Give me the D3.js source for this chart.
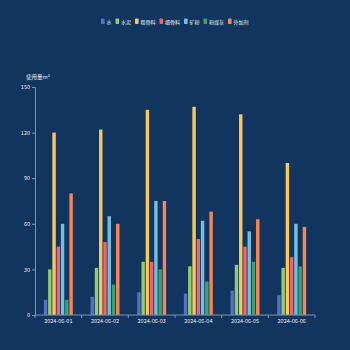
<!DOCTYPE html>
<html><head><meta charset="utf-8">
<script src="https://cdn.jsdelivr.net/npm/d3@7"></script>
<style>html,body{margin:0;padding:0;background:#11355f;}svg{display:block;}</style>
</head><body>
<svg id="c" width="350" height="350"></svg>
<script>
const categories = ["2024-06-01","2024-06-02","2024-06-03","2024-06-04","2024-06-05","2024-06-06"];
const seriesNames = ["水","水泥","粗骨料","细骨料","矿粉","粉煤灰","外加剂"];
const water   = [10,12,15,14,16,13];
const cement  = [30,31,35,32,33,31];
const coarse  = [120,122,135,137,132,100];
const fine    = [45,48,35,50,45,38];
const slag    = [60,65,75,62,55,60];
const flyash  = [10,20,30,22,35,32];
const admix   = [80,60,75,68,63,58];
const yTicks = [0,30,60,90,120,150];
const colors = ["#5470c6","#91cc75","#fac858","#ee6666","#73c0de","#3ba272","#fc8452"];
const seriesValues = [water,cement,coarse,fine,slag,flyash,admix];

const svg = d3.select("#c");
const L=35, R=315, T=87, B=315;
const x0 = d3.scaleBand().domain(categories).range([L,R]).paddingInner(0.38).paddingOuter(0.19);
const x1 = d3.scaleBand().domain(seriesNames).range([0,x0.bandwidth()]).paddingInner(0.2);
const y = d3.scaleLinear().domain([0,150]).range([B,T]);
const xTickScale = d3.scaleBand().domain(categories).range([L,R]);

const axisColor = "#7f95ad";
const textColor = "#e8eef5";
const font = "'Noto Sans CJK SC', 'Noto Sans', sans-serif";

// bars
categories.forEach((c,i)=>{
  seriesNames.forEach((s,j)=>{
    svg.append("rect")
      .attr("x", x0(c)+x1(s))
      .attr("y", y(seriesValues[j][i]))
      .attr("width", x1.bandwidth())
      .attr("height", B - y(seriesValues[j][i]))
      .attr("fill", colors[j]);
  });
});

// y axis
const yAxis = d3.axisLeft(y).tickValues(yTicks).tickSize(3).tickPadding(2);
const gy = svg.append("g").attr("transform",`translate(${L},0)`).call(yAxis);
gy.select(".domain").attr("stroke",axisColor);
gy.selectAll(".tick line").attr("stroke",axisColor);
gy.selectAll("text").attr("fill",textColor).style("font-size","5.5px").style("font-family",font);

// x axis
const gx = svg.append("g").attr("transform",`translate(0,${B})`);
gx.append("line").attr("x1",L).attr("x2",R).attr("y1",0).attr("y2",0).attr("stroke",axisColor);
const bounds = categories.map(c=>xTickScale(c)).concat([R]);
gx.selectAll(".tk").data(bounds).enter().append("line")
  .attr("x1",d=>d).attr("x2",d=>d).attr("y1",0).attr("y2",3).attr("stroke",axisColor);
gx.selectAll(".lb").data(categories).enter().append("text")
  .attr("x",d=>xTickScale(d)+xTickScale.bandwidth()/2).attr("y",8)
  .attr("text-anchor","middle").attr("fill",textColor)
  .style("font-size","5.5px").style("font-family",font).text(d=>d);

// y title
svg.append("text").attr("x",26).attr("y",79).attr("fill",textColor)
  .style("font-size","5.5px").style("font-family",font).text("使用量m³");

// legend
const lg = svg.append("g");
let lx = 101;
seriesNames.forEach((s,j)=>{
  lg.append("rect").attr("x",lx).attr("y",18.5).attr("width",3.6).attr("height",5.5).attr("rx",0.8).attr("fill",colors[j]);
  lg.append("text").attr("x",lx+5.5).attr("y",23.5).attr("fill",textColor)
    .style("font-size","5px").style("font-family",font).text(s);
  lx += 5.5 + s.length*5 + 4;
});
</script>
</body></html>
